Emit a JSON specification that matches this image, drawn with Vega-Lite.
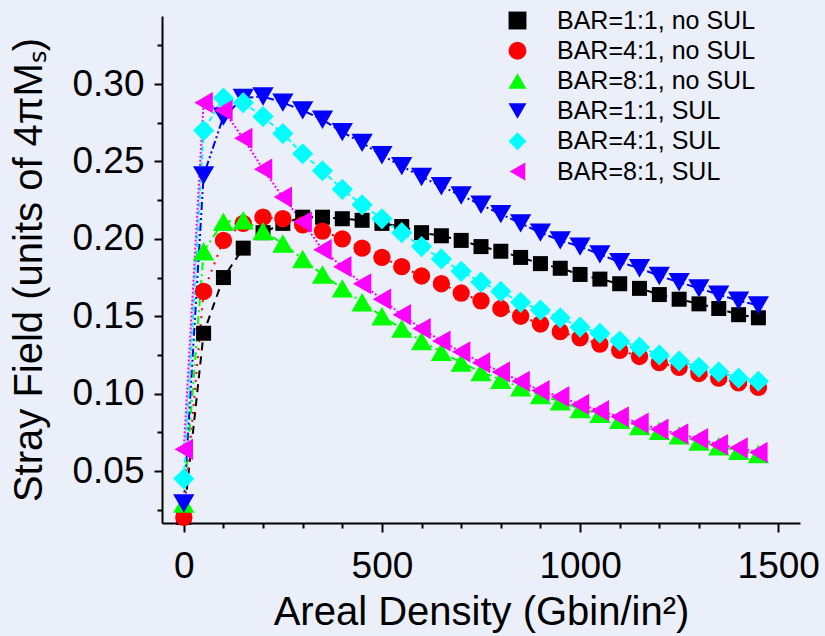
{
  "$schema": "https://vega.github.io/schema/vega-lite/v6.json",
  "width": 638,
  "height": 507,
  "autosize": "none",
  "padding": {"left": 162, "top": 16, "right": 25, "bottom": 113},
  "background": "#ebeff9",
  "config": {
    "font": "Liberation Sans",
    "view": {"stroke": null},
    "axis": {
      "domainColor": "#000000",
      "domainWidth": 2,
      "tickColor": "#000000",
      "tickWidth": 2,
      "labelColor": "#000000",
      "labelFont": "Liberation Sans",
      "labelFontSize": 37,
      "titleFont": "Liberation Sans",
      "titleFontSize": 40,
      "titleFontWeight": "normal",
      "titleColor": "#000000",
      "grid": false
    },
    "legend": {
      "labelFont": "Liberation Sans",
      "labelFontSize": 25,
      "labelColor": "#000000"
    }
  },
  "datasets": {
    "pts": [
      {"series": "BAR=1:1, no SUL", "x": 0, "y": 0.020},
      {"series": "BAR=1:1, no SUL", "x": 50, "y": 0.139},
      {"series": "BAR=1:1, no SUL", "x": 100, "y": 0.175},
      {"series": "BAR=1:1, no SUL", "x": 150, "y": 0.194},
      {"series": "BAR=1:1, no SUL", "x": 200, "y": 0.204},
      {"series": "BAR=1:1, no SUL", "x": 250, "y": 0.210},
      {"series": "BAR=1:1, no SUL", "x": 300, "y": 0.214},
      {"series": "BAR=1:1, no SUL", "x": 350, "y": 0.214},
      {"series": "BAR=1:1, no SUL", "x": 400, "y": 0.213},
      {"series": "BAR=1:1, no SUL", "x": 450, "y": 0.212},
      {"series": "BAR=1:1, no SUL", "x": 500, "y": 0.210},
      {"series": "BAR=1:1, no SUL", "x": 550, "y": 0.208},
      {"series": "BAR=1:1, no SUL", "x": 600, "y": 0.204},
      {"series": "BAR=1:1, no SUL", "x": 650, "y": 0.202},
      {"series": "BAR=1:1, no SUL", "x": 700, "y": 0.199},
      {"series": "BAR=1:1, no SUL", "x": 750, "y": 0.195},
      {"series": "BAR=1:1, no SUL", "x": 800, "y": 0.192},
      {"series": "BAR=1:1, no SUL", "x": 850, "y": 0.188},
      {"series": "BAR=1:1, no SUL", "x": 900, "y": 0.184},
      {"series": "BAR=1:1, no SUL", "x": 950, "y": 0.181},
      {"series": "BAR=1:1, no SUL", "x": 1000, "y": 0.177},
      {"series": "BAR=1:1, no SUL", "x": 1050, "y": 0.174},
      {"series": "BAR=1:1, no SUL", "x": 1100, "y": 0.171},
      {"series": "BAR=1:1, no SUL", "x": 1150, "y": 0.168},
      {"series": "BAR=1:1, no SUL", "x": 1200, "y": 0.164},
      {"series": "BAR=1:1, no SUL", "x": 1250, "y": 0.161},
      {"series": "BAR=1:1, no SUL", "x": 1300, "y": 0.158},
      {"series": "BAR=1:1, no SUL", "x": 1350, "y": 0.155},
      {"series": "BAR=1:1, no SUL", "x": 1400, "y": 0.151},
      {"series": "BAR=1:1, no SUL", "x": 1450, "y": 0.149},

      {"series": "BAR=4:1, no SUL", "x": 0, "y": 0.020},
      {"series": "BAR=4:1, no SUL", "x": 50, "y": 0.166},
      {"series": "BAR=4:1, no SUL", "x": 100, "y": 0.199},
      {"series": "BAR=4:1, no SUL", "x": 150, "y": 0.210},
      {"series": "BAR=4:1, no SUL", "x": 200, "y": 0.214},
      {"series": "BAR=4:1, no SUL", "x": 250, "y": 0.213},
      {"series": "BAR=4:1, no SUL", "x": 300, "y": 0.209},
      {"series": "BAR=4:1, no SUL", "x": 350, "y": 0.205},
      {"series": "BAR=4:1, no SUL", "x": 400, "y": 0.200},
      {"series": "BAR=4:1, no SUL", "x": 450, "y": 0.194},
      {"series": "BAR=4:1, no SUL", "x": 500, "y": 0.188},
      {"series": "BAR=4:1, no SUL", "x": 550, "y": 0.182},
      {"series": "BAR=4:1, no SUL", "x": 600, "y": 0.176},
      {"series": "BAR=4:1, no SUL", "x": 650, "y": 0.171},
      {"series": "BAR=4:1, no SUL", "x": 700, "y": 0.165},
      {"series": "BAR=4:1, no SUL", "x": 750, "y": 0.160},
      {"series": "BAR=4:1, no SUL", "x": 800, "y": 0.155},
      {"series": "BAR=4:1, no SUL", "x": 850, "y": 0.150},
      {"series": "BAR=4:1, no SUL", "x": 900, "y": 0.145},
      {"series": "BAR=4:1, no SUL", "x": 950, "y": 0.140},
      {"series": "BAR=4:1, no SUL", "x": 1000, "y": 0.136},
      {"series": "BAR=4:1, no SUL", "x": 1050, "y": 0.132},
      {"series": "BAR=4:1, no SUL", "x": 1100, "y": 0.128},
      {"series": "BAR=4:1, no SUL", "x": 1150, "y": 0.124},
      {"series": "BAR=4:1, no SUL", "x": 1200, "y": 0.120},
      {"series": "BAR=4:1, no SUL", "x": 1250, "y": 0.117},
      {"series": "BAR=4:1, no SUL", "x": 1300, "y": 0.113},
      {"series": "BAR=4:1, no SUL", "x": 1350, "y": 0.110},
      {"series": "BAR=4:1, no SUL", "x": 1400, "y": 0.107},
      {"series": "BAR=4:1, no SUL", "x": 1450, "y": 0.104},

      {"series": "BAR=8:1, no SUL", "x": 0, "y": 0.029},
      {"series": "BAR=8:1, no SUL", "x": 50, "y": 0.192},
      {"series": "BAR=8:1, no SUL", "x": 100, "y": 0.211},
      {"series": "BAR=8:1, no SUL", "x": 150, "y": 0.212},
      {"series": "BAR=8:1, no SUL", "x": 200, "y": 0.205},
      {"series": "BAR=8:1, no SUL", "x": 250, "y": 0.197},
      {"series": "BAR=8:1, no SUL", "x": 300, "y": 0.187},
      {"series": "BAR=8:1, no SUL", "x": 350, "y": 0.177},
      {"series": "BAR=8:1, no SUL", "x": 400, "y": 0.168},
      {"series": "BAR=8:1, no SUL", "x": 450, "y": 0.159},
      {"series": "BAR=8:1, no SUL", "x": 500, "y": 0.150},
      {"series": "BAR=8:1, no SUL", "x": 550, "y": 0.142},
      {"series": "BAR=8:1, no SUL", "x": 600, "y": 0.134},
      {"series": "BAR=8:1, no SUL", "x": 650, "y": 0.127},
      {"series": "BAR=8:1, no SUL", "x": 700, "y": 0.120},
      {"series": "BAR=8:1, no SUL", "x": 750, "y": 0.114},
      {"series": "BAR=8:1, no SUL", "x": 800, "y": 0.109},
      {"series": "BAR=8:1, no SUL", "x": 850, "y": 0.104},
      {"series": "BAR=8:1, no SUL", "x": 900, "y": 0.099},
      {"series": "BAR=8:1, no SUL", "x": 950, "y": 0.095},
      {"series": "BAR=8:1, no SUL", "x": 1000, "y": 0.090},
      {"series": "BAR=8:1, no SUL", "x": 1050, "y": 0.087},
      {"series": "BAR=8:1, no SUL", "x": 1100, "y": 0.083},
      {"series": "BAR=8:1, no SUL", "x": 1150, "y": 0.079},
      {"series": "BAR=8:1, no SUL", "x": 1200, "y": 0.076},
      {"series": "BAR=8:1, no SUL", "x": 1250, "y": 0.073},
      {"series": "BAR=8:1, no SUL", "x": 1300, "y": 0.069},
      {"series": "BAR=8:1, no SUL", "x": 1350, "y": 0.066},
      {"series": "BAR=8:1, no SUL", "x": 1400, "y": 0.063},
      {"series": "BAR=8:1, no SUL", "x": 1450, "y": 0.061},

      {"series": "BAR=1:1, SUL", "x": 0, "y": 0.029},
      {"series": "BAR=1:1, SUL", "x": 50, "y": 0.241},
      {"series": "BAR=1:1, SUL", "x": 100, "y": 0.279},
      {"series": "BAR=1:1, SUL", "x": 150, "y": 0.291},
      {"series": "BAR=1:1, SUL", "x": 200, "y": 0.292},
      {"series": "BAR=1:1, SUL", "x": 250, "y": 0.288},
      {"series": "BAR=1:1, SUL", "x": 300, "y": 0.283},
      {"series": "BAR=1:1, SUL", "x": 350, "y": 0.277},
      {"series": "BAR=1:1, SUL", "x": 400, "y": 0.269},
      {"series": "BAR=1:1, SUL", "x": 450, "y": 0.262},
      {"series": "BAR=1:1, SUL", "x": 500, "y": 0.254},
      {"series": "BAR=1:1, SUL", "x": 550, "y": 0.247},
      {"series": "BAR=1:1, SUL", "x": 600, "y": 0.240},
      {"series": "BAR=1:1, SUL", "x": 650, "y": 0.234},
      {"series": "BAR=1:1, SUL", "x": 700, "y": 0.228},
      {"series": "BAR=1:1, SUL", "x": 750, "y": 0.222},
      {"series": "BAR=1:1, SUL", "x": 800, "y": 0.216},
      {"series": "BAR=1:1, SUL", "x": 850, "y": 0.210},
      {"series": "BAR=1:1, SUL", "x": 900, "y": 0.204},
      {"series": "BAR=1:1, SUL", "x": 950, "y": 0.199},
      {"series": "BAR=1:1, SUL", "x": 1000, "y": 0.195},
      {"series": "BAR=1:1, SUL", "x": 1050, "y": 0.190},
      {"series": "BAR=1:1, SUL", "x": 1100, "y": 0.185},
      {"series": "BAR=1:1, SUL", "x": 1150, "y": 0.181},
      {"series": "BAR=1:1, SUL", "x": 1200, "y": 0.176},
      {"series": "BAR=1:1, SUL", "x": 1250, "y": 0.172},
      {"series": "BAR=1:1, SUL", "x": 1300, "y": 0.168},
      {"series": "BAR=1:1, SUL", "x": 1350, "y": 0.164},
      {"series": "BAR=1:1, SUL", "x": 1400, "y": 0.160},
      {"series": "BAR=1:1, SUL", "x": 1450, "y": 0.157},

      {"series": "BAR=4:1, SUL", "x": 0, "y": 0.045},
      {"series": "BAR=4:1, SUL", "x": 50, "y": 0.270},
      {"series": "BAR=4:1, SUL", "x": 100, "y": 0.291},
      {"series": "BAR=4:1, SUL", "x": 150, "y": 0.288},
      {"series": "BAR=4:1, SUL", "x": 200, "y": 0.279},
      {"series": "BAR=4:1, SUL", "x": 250, "y": 0.268},
      {"series": "BAR=4:1, SUL", "x": 300, "y": 0.255},
      {"series": "BAR=4:1, SUL", "x": 350, "y": 0.244},
      {"series": "BAR=4:1, SUL", "x": 400, "y": 0.232},
      {"series": "BAR=4:1, SUL", "x": 450, "y": 0.222},
      {"series": "BAR=4:1, SUL", "x": 500, "y": 0.213},
      {"series": "BAR=4:1, SUL", "x": 550, "y": 0.204},
      {"series": "BAR=4:1, SUL", "x": 600, "y": 0.195},
      {"series": "BAR=4:1, SUL", "x": 650, "y": 0.187},
      {"series": "BAR=4:1, SUL", "x": 700, "y": 0.179},
      {"series": "BAR=4:1, SUL", "x": 750, "y": 0.172},
      {"series": "BAR=4:1, SUL", "x": 800, "y": 0.166},
      {"series": "BAR=4:1, SUL", "x": 850, "y": 0.159},
      {"series": "BAR=4:1, SUL", "x": 900, "y": 0.154},
      {"series": "BAR=4:1, SUL", "x": 950, "y": 0.149},
      {"series": "BAR=4:1, SUL", "x": 1000, "y": 0.143},
      {"series": "BAR=4:1, SUL", "x": 1050, "y": 0.139},
      {"series": "BAR=4:1, SUL", "x": 1100, "y": 0.134},
      {"series": "BAR=4:1, SUL", "x": 1150, "y": 0.130},
      {"series": "BAR=4:1, SUL", "x": 1200, "y": 0.125},
      {"series": "BAR=4:1, SUL", "x": 1250, "y": 0.121},
      {"series": "BAR=4:1, SUL", "x": 1300, "y": 0.117},
      {"series": "BAR=4:1, SUL", "x": 1350, "y": 0.114},
      {"series": "BAR=4:1, SUL", "x": 1400, "y": 0.110},
      {"series": "BAR=4:1, SUL", "x": 1450, "y": 0.108},

      {"series": "BAR=8:1, SUL", "x": 0, "y": 0.064},
      {"series": "BAR=8:1, SUL", "x": 50, "y": 0.288},
      {"series": "BAR=8:1, SUL", "x": 100, "y": 0.283},
      {"series": "BAR=8:1, SUL", "x": 150, "y": 0.265},
      {"series": "BAR=8:1, SUL", "x": 200, "y": 0.245},
      {"series": "BAR=8:1, SUL", "x": 250, "y": 0.227},
      {"series": "BAR=8:1, SUL", "x": 300, "y": 0.211},
      {"series": "BAR=8:1, SUL", "x": 350, "y": 0.193},
      {"series": "BAR=8:1, SUL", "x": 400, "y": 0.182},
      {"series": "BAR=8:1, SUL", "x": 450, "y": 0.171},
      {"series": "BAR=8:1, SUL", "x": 500, "y": 0.161},
      {"series": "BAR=8:1, SUL", "x": 550, "y": 0.151},
      {"series": "BAR=8:1, SUL", "x": 600, "y": 0.142},
      {"series": "BAR=8:1, SUL", "x": 650, "y": 0.134},
      {"series": "BAR=8:1, SUL", "x": 700, "y": 0.127},
      {"series": "BAR=8:1, SUL", "x": 750, "y": 0.120},
      {"series": "BAR=8:1, SUL", "x": 800, "y": 0.114},
      {"series": "BAR=8:1, SUL", "x": 850, "y": 0.108},
      {"series": "BAR=8:1, SUL", "x": 900, "y": 0.102},
      {"series": "BAR=8:1, SUL", "x": 950, "y": 0.098},
      {"series": "BAR=8:1, SUL", "x": 1000, "y": 0.093},
      {"series": "BAR=8:1, SUL", "x": 1050, "y": 0.089},
      {"series": "BAR=8:1, SUL", "x": 1100, "y": 0.085},
      {"series": "BAR=8:1, SUL", "x": 1150, "y": 0.081},
      {"series": "BAR=8:1, SUL", "x": 1200, "y": 0.077},
      {"series": "BAR=8:1, SUL", "x": 1250, "y": 0.074},
      {"series": "BAR=8:1, SUL", "x": 1300, "y": 0.071},
      {"series": "BAR=8:1, SUL", "x": 1350, "y": 0.067},
      {"series": "BAR=8:1, SUL", "x": 1400, "y": 0.065},
      {"series": "BAR=8:1, SUL", "x": 1450, "y": 0.062}
    ]
  },
  "data": {"name": "pts"},
  "layer": [
    {
      "mark": {"type": "line", "strokeWidth": 2, "clip": true},
      "encoding": {
        "x": {
          "field": "x", "type": "quantitative",
          "scale": {"domain": [-55, 1555], "nice": false, "zero": false},
          "axis": {
            "title": "Areal Density (Gbin/in²)",
            "values": [0, 100, 200, 300, 400, 500, 600, 700, 800, 900, 1000, 1100, 1200, 1300, 1400, 1500],
            "labelExpr": "datum.value % 500 === 0 ? format(datum.value, 'd') : ''",
            "tickSize": {"condition": {"test": "datum.value % 500 === 0", "value": 9}, "value": 5},
            "labelPadding": 16,
            "labelFlush": false,
            "labelOverlap": false,
            "titlePadding": 8
          }
        },
        "y": {
          "field": "y", "type": "quantitative",
          "scale": {"domain": [0.0164, 0.344], "nice": false, "zero": false},
          "axis": {
            "title": "Stray Field (units of 4πMₛ)",
            "values": [0.025, 0.05, 0.075, 0.1, 0.125, 0.15, 0.175, 0.2, 0.225, 0.25, 0.275, 0.3, 0.325],
            "labelExpr": "round(datum.value * 1000) % 50 === 0 ? format(datum.value, '.2f') : ''",
            "tickSize": {"condition": {"test": "round(datum.value * 1000) % 50 === 0", "value": 8}, "value": 5},
            "labelPadding": 10,
            "labelFlush": false,
            "labelOverlap": false,
            "titlePadding": 22
          }
        },
        "stroke": {
          "field": "series", "type": "nominal", "legend": null,
          "scale": {
            "domain": ["BAR=1:1, no SUL", "BAR=4:1, no SUL", "BAR=8:1, no SUL", "BAR=1:1, SUL", "BAR=4:1, SUL", "BAR=8:1, SUL", "-"],
            "range": ["#000000", "#ff0000", "#00ff00", "#0000ff", "#00ffff", "#ff00ff", "#888888"]
          }
        },
        "strokeDash": {
          "field": "series", "type": "nominal", "legend": null,
          "scale": {
            "domain": ["BAR=1:1, no SUL", "BAR=4:1, no SUL", "BAR=8:1, no SUL", "BAR=1:1, SUL", "BAR=4:1, SUL", "BAR=8:1, SUL", "-"],
            "range": [[8, 6], [2, 6], [8, 4, 2, 4], [8, 3, 2, 3, 2, 3], [5, 3], [2, 2], [1, 0]]
          }
        }
      }
    },
    {
      "transform": [{"filter": "datum.series === 'BAR=1:1, no SUL'"}],
      "mark": {"type": "point", "filled": true, "opacity": 1, "strokeWidth": 0, "size": 225},
      "encoding": {
        "x": {"field": "x", "type": "quantitative"},
        "y": {"field": "y", "type": "quantitative"},
        "color": {
          "field": "series", "type": "nominal",
          "scale": {
            "domain": ["BAR=1:1, no SUL", "BAR=4:1, no SUL", "BAR=8:1, no SUL", "BAR=1:1, SUL", "BAR=4:1, SUL", "BAR=8:1, SUL"],
            "range": ["#000000", "#ff0000", "#00ff00", "#0000ff", "#00ffff", "#ff00ff"]
          },
          "legend": {
            "title": null,
            "orient": "none",
            "legendX": 343,
            "legendY": -8,
            "symbolSize": 320,
            "symbolStrokeWidth": 0,
            "labelOffset": 27,
            "rowPadding": 4.2,
            "labelFontSize": 25,
            "labelLimit": 400
          }
        },
        "shape": {
          "field": "series", "type": "nominal",
          "scale": {
            "domain": ["BAR=1:1, no SUL", "BAR=4:1, no SUL", "BAR=8:1, no SUL", "BAR=1:1, SUL", "BAR=4:1, SUL", "BAR=8:1, SUL"],
            "range": ["square", "circle", "triangle-up", "triangle-down", "diamond", "triangle-left"]
          }
        }
      }
    },
    {
      "transform": [{"filter": "datum.series === 'BAR=4:1, no SUL'"}],
      "mark": {"type": "point", "filled": true, "opacity": 1, "strokeWidth": 0, "size": 300},
      "encoding": {
        "x": {"field": "x", "type": "quantitative"},
        "y": {"field": "y", "type": "quantitative"},
        "color": {"field": "series", "type": "nominal"},
        "shape": {"field": "series", "type": "nominal"}
      }
    },
    {
      "transform": [{"filter": "datum.series !== 'BAR=1:1, no SUL' && datum.series !== 'BAR=4:1, no SUL'"}],
      "mark": {"type": "point", "filled": true, "opacity": 1, "strokeWidth": 0, "size": 450},
      "encoding": {
        "x": {"field": "x", "type": "quantitative"},
        "y": {"field": "y", "type": "quantitative"},
        "color": {"field": "series", "type": "nominal"},
        "shape": {"field": "series", "type": "nominal"}
      }
    }
  ]
}
